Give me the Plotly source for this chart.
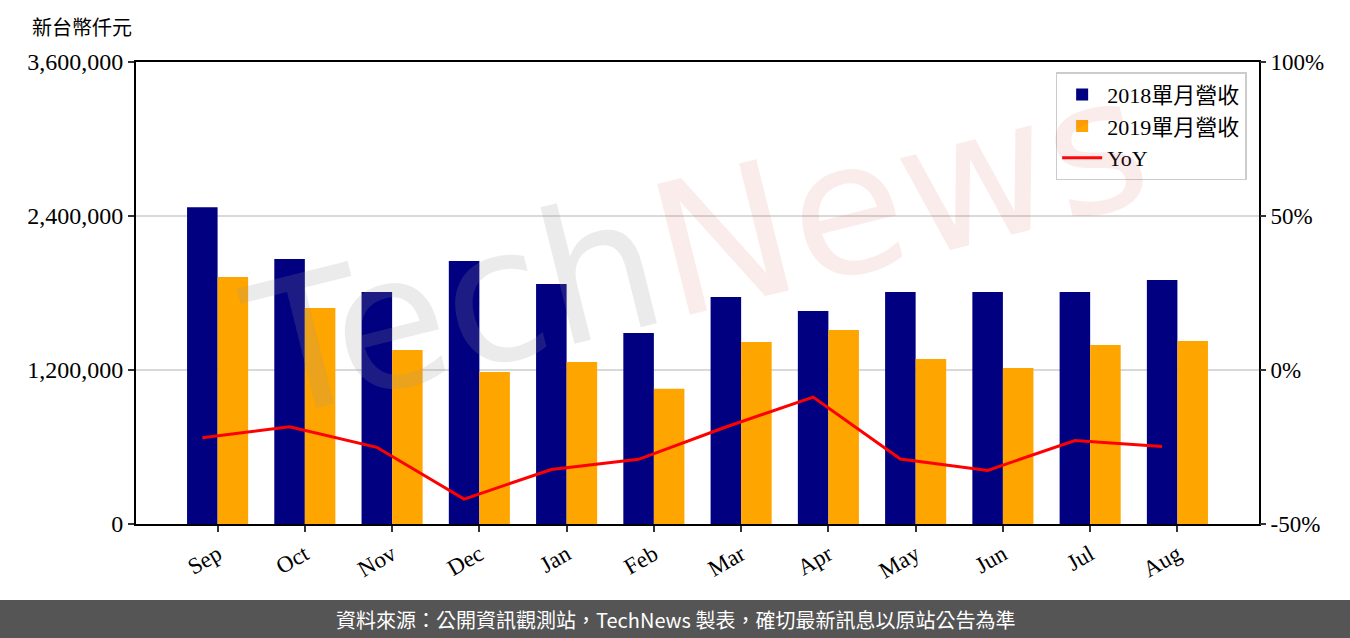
import numpy as np
import plotly.graph_objects as go

months = ["Sep", "Oct", "Nov", "Dec", "Jan", "Feb", "Mar", "Apr", "May", "Jun", "Jul", "Aug"]
rev_2018 = [2469000, 2065000, 1808000, 2049000, 1870000, 1489000, 1769000, 1660000, 1808000, 1808000, 1808000, 1901000]
rev_2019 = [1925000, 1683000, 1356000, 1185000, 1263000, 1053000, 1419000, 1512000, 1286000, 1216000, 1395000, 1426000]
yoy = [-22.0, -18.4, -25.1, -41.9, -32.3, -29.0, -18.5, -8.8, -28.9, -32.6, -22.9, -24.8]

left_ticks = [0, 1200000, 2400000, 3600000]
right_ticks = [-50, 0, 50, 100]
right_labels = ["-50%", "0%", "50%", "100%"]

idx = np.arange(len(months))
W = 0.35
SERIF = "Liberation Serif, Noto Sans CJK TC, serif"
FS = 23

fig = go.Figure()
fig.add_trace(go.Bar(x=idx, y=rev_2018, width=W, offset=-W, name="2018單月營收",
                     marker=dict(color="#000080", line=dict(width=0))))
fig.add_trace(go.Bar(x=idx, y=rev_2019, width=W, offset=0, name="2019單月營收",
                     marker=dict(color="#FFA500", line=dict(width=0))))
fig.add_trace(go.Scatter(x=idx - W / 2, y=yoy, name="YoY", mode="lines", yaxis="y2",
                         line=dict(color="#FF0000", width=3)))

fig.update_layout(
    width=1350, height=638,
    margin=dict(l=136, r=91, t=62, b=114),
    plot_bgcolor="white", paper_bgcolor="white",
    barmode="overlay",
    font=dict(family=SERIF, size=FS, color="black"),
    showlegend=True,
    legend=dict(x=0.989, y=0.978, xanchor="right", yanchor="top",
                bordercolor="#cccccc", borderwidth=1.5, bgcolor="rgba(255,255,255,0.8)",
                font=dict(family=SERIF, size=22), itemwidth=40, tracegroupgap=0),
    xaxis=dict(range=[-0.935, 11.935], tickmode="array", tickvals=list(idx), ticktext=months,
               tickangle=-30, ticks="outside", ticklen=6, tickwidth=2, tickcolor="#333",
               showline=True, linecolor="black", linewidth=2, mirror=True,
               showgrid=False, zeroline=False, tickfont=dict(size=FS)),
    yaxis=dict(range=[0, 3600000], tickmode="array", tickvals=left_ticks, tickformat=",d",
               ticks="outside", ticklen=6, tickwidth=2, tickcolor="#333",
               showline=True, linecolor="black", linewidth=2, mirror=True,
               showgrid=True, gridcolor="#d9d9d9", gridwidth=1.5, zeroline=False,
               tickfont=dict(size=24)),
    yaxis2=dict(range=[-50, 100], tickmode="array", tickvals=right_ticks, ticktext=right_labels,
                overlaying="y", side="right", ticks="outside", ticklen=6, tickwidth=2,
                tickcolor="#333", showgrid=False, zeroline=False, showline=False,
                tickfont=dict(size=FS)),
)

# axis unit label
fig.add_annotation(text="新台幣仟元", xref="paper", yref="paper", x=-0.0944, y=1.074,
                   xanchor="left", yanchor="middle", showarrow=False,
                   font=dict(family=SERIF, size=20, color="black"))

# watermark
fig.add_annotation(text='<span style="color:rgba(150,150,150,0.19)">Tech</span>'
                        '<span style="color:rgba(220,80,80,0.11)">News</span>',
                   xref="paper", yref="paper", x=0.5, y=0.6, showarrow=False,
                   textangle=-14, font=dict(family="DejaVu Sans", size=185),
                   xanchor="center", yanchor="middle")

# footer band
fig.add_shape(type="rect", xref="paper", yref="paper", x0=-0.13, x1=1.09,
              y0=-0.2500, y1=-0.1645, fillcolor="#555555", line=dict(width=0), layer="above")
fig.add_annotation(text="資料來源：公開資訊觀測站，TechNews 製表，確切最新訊息以原站公告為準",
                   xref="paper", yref="paper", x=(675 - 136) / 1123, y=-0.206,
                   xanchor="center", yanchor="middle", showarrow=False,
                   font=dict(family="Noto Sans CJK TC", size=20, color="white"))

fig.write_html("out.html", config={"displayModeBar": False},
               post_script="document.body.style.margin='0';")
